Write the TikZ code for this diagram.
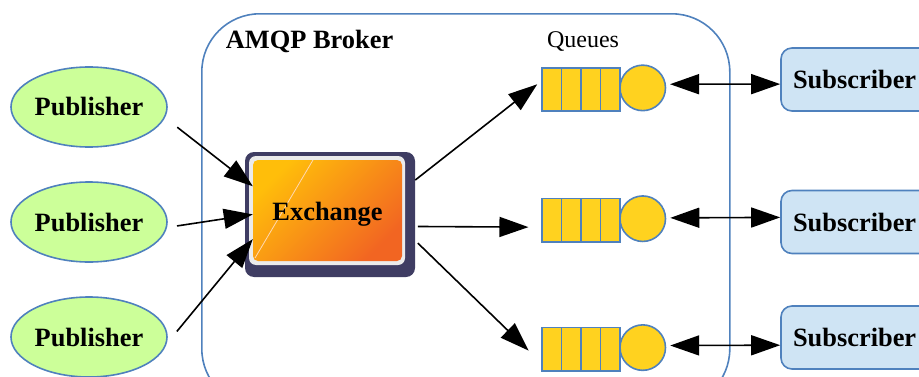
\documentclass[tikz,border=0pt]{standalone}
\usepackage{fontspec}
\setmainfont{Liberation Serif}
\usepackage{tikz}
\usetikzlibrary{shapes.geometric, arrows.meta}
\definecolor{edgeblue}{HTML}{4F81BD}
\definecolor{pubgreen}{HTML}{CCFF99}
\definecolor{subblue}{HTML}{CFE4F4}
\definecolor{queueyellow}{HTML}{FFD21F}
\definecolor{exdark}{HTML}{3F3D63}
\definecolor{exstart}{HTML}{FFBE0A}
\definecolor{exend}{HTML}{F26522}
\tikzstyle{boldtext} = [font=\fontsize{26.4}{30}\selectfont\bfseries, text=black]
\tikzstyle{publisher} = [ellipse, minimum width=156pt, minimum height=80pt, inner sep=0pt, draw=edgeblue, line width=1.6pt, fill=pubgreen, boldtext]
\tikzstyle{subscriber} = [rectangle, rounded corners=11pt, minimum height=63pt, text width=150pt, inner sep=12pt, align=left, draw=edgeblue, line width=1.6pt, fill=subblue, boldtext]
\tikzstyle{cell} = [rectangle, minimum width=19.5pt, minimum height=43.5pt, inner sep=0pt, draw=edgeblue, line width=1.7pt, fill=queueyellow]
\tikzstyle{head} = [circle, minimum size=45.5pt, inner sep=0pt, draw=edgeblue, line width=1.6pt, fill=queueyellow]
\tikzstyle{arrow} = [line width=1.6pt, -{Triangle[length=29pt,width=20pt]}]
\tikzstyle{twoway} = [line width=1.6pt, {Triangle[length=29pt,width=20pt]}-{Triangle[length=29pt,width=20pt]}]

\begin{document}
\begin{tikzpicture}[x=1pt, y=1pt, node distance=115pt]
\clip (0,0) rectangle (919,376);

% Broker
\node (broker) [rectangle, rounded corners=58pt, minimum width=528pt, minimum height=393pt, draw=edgeblue, line width=1.6pt, anchor=north west] at (201,363) {};
\node (brokerlabel) [font=\fontsize{26.4}{30}\selectfont\bfseries] at (309.5,335) {AMQP Broker};

% Publisher
\node (pub1) [publisher] at (89,269) {Publisher};
\node (pub2) [publisher, below of=pub1] {Publisher};
\node (pub3) [publisher, below of=pub2] {Publisher};

% Exchange
\node (exshadow) [rectangle, rounded corners=9pt, minimum width=170pt, minimum height=125pt, fill=exdark] at (330,161.5) {};
\node (exframe) [rectangle, rounded corners=7pt, minimum width=156pt, minimum height=109pt, fill=white!92!black] at (327,165.5) {};
\node (exchange) [rectangle, rounded corners=5pt, minimum width=149pt, minimum height=101pt, text height=25pt, top color=exstart, bottom color=exend, shading angle=45, boldtext,
  path picture={\draw [white!70!orange, line width=0.8pt] ([xshift=60pt]path picture bounding box.north west) -- ([xshift=2pt,yshift=3pt]path picture bounding box.south west);}] at (327.5,165.5) {Exchange};

% Queues
\node (queuelabel) [font=\fontsize{24}{28}\selectfont] at (583,335) {Queues};
\foreach \q/\y in {1/286.5, 2/155.7, 3/26.8} {
  \node (q\q c1) [cell] at (551.75,\y) {};
  \foreach \i/\j in {1/2, 2/3, 3/4}
    \node (q\q c\j) [cell, right of=q\q c\i, node distance=19.5pt] {};
  \node (q\q head) [head, right of=q\q c4, node distance=32.5pt, yshift=1.6pt] {};
}

% Subscriber
\node (sub1) [subscriber] at (868,296.5) {Subscriber};
\node (sub2) [subscriber, below of=sub1, node distance=142.5pt] {Subscriber};
\node (sub3) [subscriber, below of=sub2, node distance=115.5pt] {Subscriber};

% Frecce
\draw [arrow, shorten <=15.5pt] (pub1.-8.8) -- (exchange.162.5);
\draw [arrow, shorten <=10pt] (pub2.-4.9) -- (exchange.183.5);
\draw [arrow, shorten <=16pt] (pub3.-5.5) -- (exchange.201.6);
\draw [arrow, shorten >=5pt] (exshadow.22) -- (q1c1.142);
\draw [arrow, shorten <=2.7pt, shorten >=12.7pt] (exshadow.-8.17) -- (q2c1.213.3);
\draw [arrow, shorten <=3.7pt, shorten >=17.5pt] (exshadow.-17.7) -- (q3c1.232.7);
\draw [twoway, shorten <=4pt] (q1head.9.7) -- (sub1.183);
\draw [twoway, shorten <=4pt] (q2head.2.5) -- (sub2.177.2);
\draw [twoway, shorten <=4pt] (q3head.5.7) -- (sub3.185.1);
\end{tikzpicture}
\end{document}
